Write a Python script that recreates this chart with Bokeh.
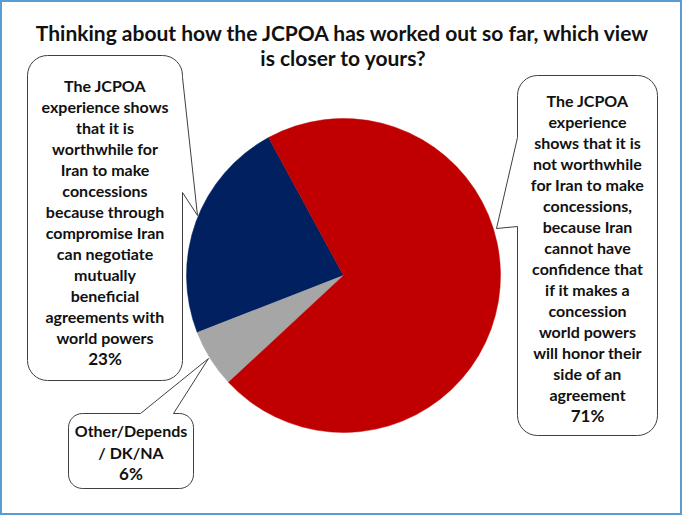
import math
from bokeh.plotting import figure
from bokeh.models import Range1d
from bokeh.core.properties import value
from bokeh.embed import file_html
from bokeh.resources import INLINE

# ---- data ----
categories = ["Worthwhile", "Other/Depends/DK/NA", "Not worthwhile"]
values = [23, 6, 71]
colors = ["#002060", "#A6A6A6", "#C00000"]
title_lines = ["Thinking about how the JCPOA has worked out so far, which view",
               "is closer to yours?"]
label_worthwhile = ["The JCPOA", "experience shows", "that it is", "worthwhile for",
                    "Iran to make", "concessions", "because through", "compromise Iran",
                    "can negotiate", "mutually", "beneficial", "agreements with",
                    "world powers"]
label_other = ["Other/Depends", "/ DK/NA"]
label_not = ["The JCPOA", "experience", "shows that it is", "not worthwhile",
             "for Iran to make", "concessions,", "because Iran", "cannot have",
             "confidence that", "if it makes a", "concession", "world powers",
             "will honor their", "side of an", "agreement"]

W, H = 682, 515
REF_H = 517

def Y(y):  # reference (y down) -> data (y up)
    return REF_H - y

p = figure(width=W, height=H, output_backend="svg", toolbar_location=None,
           x_range=Range1d(0, W), y_range=Range1d(REF_H - H, REF_H),
           min_border=0)
p.axis.visible = False
p.grid.visible = False
p.outline_line_color = "#5B9BD5"
p.outline_line_width = 3
p.background_fill_color = "white"
p.border_fill_color = "white"

FONT = value("Lato")

# ---- pie ----
cx, cy, R = 343, 275, 157
start = math.radians(118.5)
total = sum(values)
acc = start
for v, c in zip(values, colors):
    a0 = acc
    a1 = acc + 2 * math.pi * v / total
    p.wedge(x=cx, y=Y(cy), radius=R, start_angle=a0, end_angle=a1,
            fill_color=c, line_color=c, line_width=0.5)
    acc = a1

# ---- callouts ----
def arc(cxa, cya, r, t0, t1, n=8):
    pts = []
    for i in range(n + 1):
        t = math.radians(t0 + (t1 - t0) * i / n)
        pts.append((cxa + r * math.cos(t), cya + r * math.sin(t)))
    return pts

def callout(x0, y0, x1, y1, r, edge, a, tip, b):
    pts = []
    pts.append((x0 + r, y0))
    if edge == "top":
        pts += [(a, y0), tip, (b, y0)]
    pts += arc(x1 - r, y0 + r, r, -90, 0)
    if edge == "right":
        pts += [(x1, a), tip, (x1, b)]
    pts += arc(x1 - r, y1 - r, r, 0, 90)
    pts += arc(x0 + r, y1 - r, r, 90, 180)
    if edge == "left":
        pts += [(x0, b), tip, (x0, a)]
    pts += arc(x0 + r, y0 + r, r, 180, 270)
    xs = [q[0] for q in pts]
    ys = [Y(q[1]) for q in pts]
    p.patch(xs, ys, fill_color="white", line_color="#3F3F3F", line_width=1)

callout(27, 55, 182, 380, 20, "right", 77, (197, 215), 192)
callout(517, 75, 657, 435, 20, "left", 137, (496, 228), 226)
callout(68, 413, 193, 488, 14, "top", 140, (208, 358), 173)

def block(lines, pct, xc, y_first, step, size, pct_size):
    xs = [xc] * len(lines)
    ys = [Y(y_first + i * step) for i in range(len(lines))]
    p.text(x=xs, y=ys, text=lines, text_font=FONT, text_font_style="bold",
           text_font_size=size, text_align="center", text_baseline="middle",
           text_color="#111111")
    p.text(x=[xc], y=[Y(y_first + len(lines) * step)], text=[f"{pct}%"],
           text_font=FONT, text_font_style="bold", text_font_size=pct_size,
           text_align="center", text_baseline="middle", text_color="#111111")

block(label_worthwhile, values[0], 104.5, 85, 21, "16px", "17px")
block(label_not, values[2], 587, 100, 21, "16px", "17px")
block(label_other, values[1], 130.5, 430, 21.5, "16px", "17px")

# title
p.text(x=[343, 343], y=[Y(32), Y(57)], text=title_lines, text_font=FONT,
       text_font_style="bold", text_font_size="21px", text_align="center",
       text_baseline="middle", text_color="#111111")

open("out.html", "w").write(file_html(p, INLINE))
